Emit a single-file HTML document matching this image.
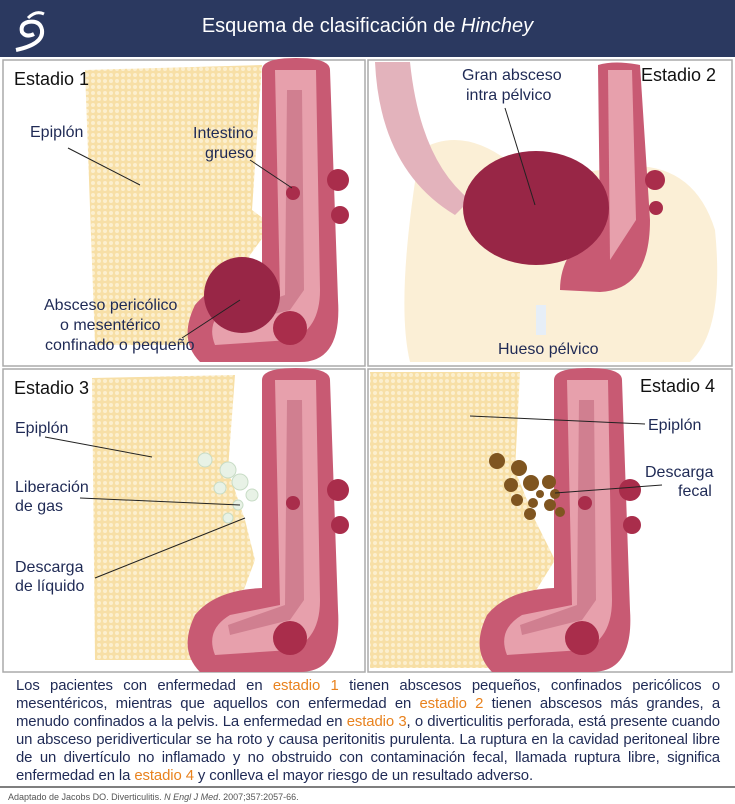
<!DOCTYPE html>
<html><head><meta charset="utf-8"><style>
body{margin:0;width:735px;height:804px;background:#fff;font-family:"Liberation Sans",sans-serif;overflow:hidden;position:relative}
.hdr{position:absolute;left:0;top:0;width:735px;height:57px;background:#2b3960}
.hdr .t{position:absolute;left:0;right:0;top:15px;text-align:center;color:#fff;font-size:20px}
.txt{position:absolute;left:16px;top:678px;width:704px;font-size:14.9px;line-height:17.9px;color:#1f2a55;text-align:justify;letter-spacing:-0.1px}
.o{color:#e8821e}
.cit{position:absolute;left:8px;top:792px;font-size:9px;color:#555}
</style></head><body>
<div class="hdr"><div class="t">Esquema de clasificación de <i>Hinchey</i></div>
<svg style="position:absolute;left:14px;top:8px" width="36" height="44" viewBox="0 0 36 44"><path d="M2,42 Q30,36 28,22 Q26,12 14,14 Q6,16 8,24 Q12,30 20,26" fill="none" stroke="#fff" stroke-width="4"/><path d="M14,10 Q22,2 30,6" fill="none" stroke="#fff" stroke-width="3"/></svg></div>
<svg style="position:absolute;left:0;top:0" width="735" height="804">
<defs>
<pattern id="dots" width="6" height="6" patternUnits="userSpaceOnUse"><rect width="6" height="6" fill="#f7dfa6"/><circle cx="3" cy="3" r="2" fill="#fcefcf"/></pattern>
<g id="colon">
<path d="M262,380 Q262,368 296,368 Q330,368 330,380 L338,610 Q342,672 300,672 L200,672 Q178,650 195,615 Q215,590 262,588 Z" fill="#c85a73"/>
<path d="M275,380 L316,380 L320,600 Q320,640 290,650 L215,655 Q205,630 230,615 L280,605 Z" fill="#e7a0ac"/>
<path d="M287,400 L302,400 L304,600 L290,620 L230,635 L228,625 L285,605 Z" fill="#d07f90"/>
<circle cx="338" cy="490" r="11" fill="#a92d4b"/><circle cx="340" cy="525" r="9" fill="#a92d4b"/><circle cx="290" cy="638" r="17" fill="#a92d4b"/><circle cx="293" cy="503" r="7" fill="#a92d4b"/>
</g>
</defs>
<g fill="none" stroke="#aaa" stroke-width="1.5">
<rect x="3" y="60" width="362" height="306"/><rect x="368" y="60" width="364" height="306"/>
<rect x="3" y="369" width="362" height="303"/><rect x="368" y="369" width="364" height="303"/>
</g>
<!-- Panel 1 -->
<path d="M85,70 L262,65 L252,210 L272,225 L250,255 L236,290 L225,345 L95,345 Z" fill="url(#dots)"/>
<use href="#colon" transform="translate(0,-310)"/>
<circle cx="242" cy="295" r="38" fill="#982646"/>
<!-- Panel 2 -->
<path d="M420,150 Q470,120 530,180 L600,170 Q690,150 715,230 Q725,330 690,362 L410,362 Q395,300 420,150Z" fill="#fbefd6"/>
<rect x="536" y="305" width="10" height="30" fill="#e6eef7"/>
<path d="M375,62 L410,62 Q420,160 470,200 L455,215 Q380,170 375,62Z" fill="#e3b3bc"/>
<path d="M598,65 Q615,60 640,65 L650,220 Q650,290 600,292 L560,290 Q560,250 600,225Z" fill="#c85a73"/>
<path d="M608,70 L632,70 L636,220 L610,260 Z" fill="#e7a0ac"/>
<circle cx="655" cy="180" r="10" fill="#a92d4b"/><circle cx="656" cy="208" r="7" fill="#a92d4b"/>
<ellipse cx="536" cy="208" rx="73" ry="57" fill="#982646"/>
<!-- Panel 3 -->
<path d="M92,378 L235,375 L228,470 L245,520 L255,560 L240,600 L230,660 L95,660 Z" fill="url(#dots)"/>
<use href="#colon"/>
<g fill="#e8f2e6" stroke="#c8dcc6"><circle cx="205" cy="460" r="7"/><circle cx="228" cy="470" r="8"/><circle cx="240" cy="482" r="8"/><circle cx="220" cy="488" r="6"/><circle cx="252" cy="495" r="6"/><circle cx="238" cy="505" r="5"/><circle cx="228" cy="518" r="5"/></g>
<!-- Panel 4 -->
<path d="M370,372 L520,372 L515,470 L535,520 L555,560 L530,600 L500,668 L370,668 Z" fill="url(#dots)"/>
<use href="#colon" transform="translate(292,0)"/>
<g fill="#7f5520"><circle cx="497" cy="461" r="8"/><circle cx="519" cy="468" r="8"/><circle cx="531" cy="483" r="8"/><circle cx="549" cy="482" r="7"/><circle cx="511" cy="485" r="7"/><circle cx="555" cy="494" r="5"/><circle cx="533" cy="503" r="5"/><circle cx="517" cy="500" r="6"/><circle cx="550" cy="505" r="6"/><circle cx="530" cy="514" r="6"/><circle cx="560" cy="512" r="5"/><circle cx="540" cy="494" r="4"/></g>
<g stroke="#222" stroke-width="1">
<line x1="68" y1="148" x2="140" y2="185"/><line x1="250" y1="160" x2="292" y2="188"/><line x1="182" y1="338" x2="240" y2="300"/>
<line x1="505" y1="108" x2="535" y2="205"/>
<line x1="45" y1="437" x2="152" y2="457"/><line x1="80" y1="498" x2="240" y2="505"/><line x1="95" y1="578" x2="245" y2="518"/>
<line x1="470" y1="416" x2="645" y2="424"/><line x1="555" y1="493" x2="662" y2="485"/>
</g>
<g font-size="16" fill="#1f2a55" font-family="Liberation Sans,sans-serif">
<text x="14" y="85" fill="#111" font-size="18">Estadio 1</text>
<text x="30" y="137">Epiplón</text>
<text x="193" y="138">Intestino</text><text x="205" y="158">grueso</text>
<text x="44" y="310">Absceso pericólico</text><text x="60" y="330">o mesentérico</text><text x="45" y="350">confinado o pequeño</text>
<text x="641" y="81" fill="#111" font-size="18">Estadio 2</text>
<text x="462" y="80">Gran absceso</text><text x="466" y="100">intra pélvico</text>
<text x="498" y="354">Hueso pélvico</text>
<text x="14" y="394" fill="#111" font-size="18">Estadio 3</text>
<text x="15" y="433">Epiplón</text>
<text x="15" y="492">Liberación</text><text x="15" y="511">de gas</text>
<text x="15" y="572">Descarga</text><text x="15" y="591">de líquido</text>
<text x="640" y="392" fill="#111" font-size="18">Estadio 4</text>
<text x="648" y="430">Epiplón</text>
<text x="645" y="477">Descarga</text><text x="678" y="496">fecal</text>
</g>
<line x1="0" y1="787" x2="735" y2="787" stroke="#555" stroke-width="1.5"/>
</svg>
<div class="txt">Los pacientes con enfermedad en <span class="o">estadio 1</span> tienen abscesos pequeños, confinados pericólicos o mesentéricos, mientras que aquellos con enfermedad en <span class="o">estadio 2</span> tienen abscesos más grandes, a menudo confinados a la pelvis. La enfermedad en <span class="o">estadio 3</span>, o diverticulitis perforada, está presente cuando un absceso peridiverticular se ha roto y causa peritonitis purulenta. La ruptura en la cavidad peritoneal libre de un divertículo no inflamado y no obstruido con contaminación fecal, llamada ruptura libre, significa enfermedad en la <span class="o">estadio 4</span> y conlleva el mayor riesgo de un resultado adverso.</div>
<div class="cit">Adaptado de Jacobs DO. Diverticulitis. <i>N Engl J Med</i>. 2007;357:2057-66.</div>
</body></html>
